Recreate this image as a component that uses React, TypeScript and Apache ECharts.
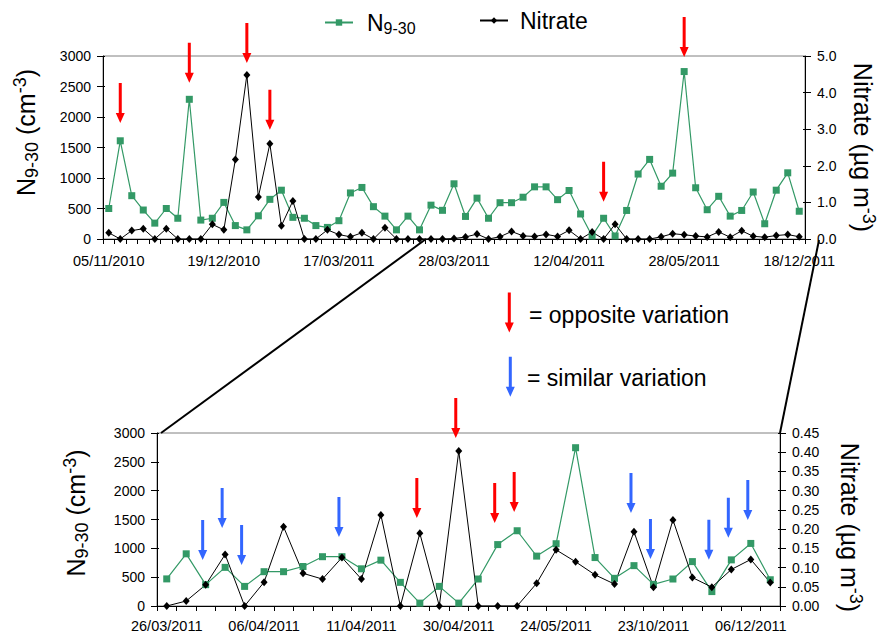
import React, { useEffect, useRef } from "react";
import * as echarts from "echarts";

// ---------- data ----------
const topTickLabels = ["05/11/2010", "19/12/2010", "17/03/2011", "28/03/2011", "12/04/2011", "28/05/2011", "18/12/2011"];
const bottomTickLabels = ["26/03/2011", "06/04/2011", "11/04/2011", "30/04/2011", "24/05/2011", "23/10/2011", "06/12/2011"];

// N9-30 number concentration (cm-3), one value per sample
const n930 = [
  500, 1610, 710, 475, 260, 500, 340, 2290, 310, 340,
  600, 220, 150, 380, 650, 800, 355, 340, 220, 190,
  300, 755, 845, 530, 375, 150, 375, 150, 555, 470,
  905, 370, 670, 340, 595, 595, 685, 855, 855, 645,
  795, 410, 50, 340, 50, 468, 1065, 1305, 865, 1080,
  2745, 840, 480, 700, 375, 468, 770, 250, 800, 1085,
  455,
];

// Nitrate (µg m-3), one value per sample
const nitrate = [
  0.17, 0, 0.23, 0.28, 0, 0.28, 0, 0, 0, 0.4,
  0.25, 2.17, 4.48, 1.15, 2.6, 0.36, 1.04, 0, 0, 0.25,
  0.12, 0.06, 0.17, 0, 0.31, 0, 0, 0, 0, 0,
  0.013, 0.055, 0.134, 0, 0.062, 0.206, 0.085, 0.07, 0.126, 0.07,
  0.237, 0, 0.189, 0, 0.403, 0, 0, 0, 0.059, 0.146,
  0.115, 0.081, 0.057, 0.193, 0.049, 0.224, 0.074, 0.049, 0.095, 0.121,
  0.061,
];

// first sample shown in the enlarged (bottom) panel
const zoomStart = 29;

// annotation arrows: sample index, N9-30 value at arrow tip, kind (o = opposite, s = similar)
const topArrowIndex = [1, 7, 12, 14, 43, 50];
const topArrowTip = [1900, 2560, 2885, 1790, 610, 2984];
const topArrowKind = ["o", "o", "o", "o", "o", "o"];

const bottomArrowIndex = [2, 3, 4, 9, 13, 15, 17, 18, 24, 25, 28, 29, 30];
const bottomArrowTip = [798, 1353, 711, 1197, 1526, 2913, 1439, 1630, 1613, 815, 803, 1185, 1491];
const bottomArrowKind = ["s", "s", "s", "s", "o", "o", "o", "o", "s", "s", "s", "s", "s"];

// ---------- styling ----------
const FONT = '"Liberation Sans", Arial, Helvetica, sans-serif';
const GREEN = "#339966";
const RED = "#FF0000";
const BLUE = "#3366FF";
const ARROW_PATH = "path://M3,0L6,0L6,30L9,30L4.5,40L0,30L3,30Z";

const topCats = n930.map((_, i) => String(i + 1));
const bottomCats = topCats.slice(zoomStart);

const nameRich = {
  n: { fontSize: 25, fontFamily: FONT, color: "#000", lineHeight: 30 },
  sub: { fontSize: 18, fontFamily: FONT, color: "#000", verticalAlign: "bottom" },
  sup: { fontSize: 18, fontFamily: FONT, color: "#000", verticalAlign: "top" },
};

function valueAxis(gridIndex: number, position: string, max: number, interval: number, decimals: number,
  name: string, nameGap: number, rotate: number, pad: number[]) {
  return {
    type: "value", gridIndex, position, min: 0, max, interval,
    axisLine: { show: true, lineStyle: { color: "#000", width: 1 } },
    axisTick: { show: true, length: 6, lineStyle: { color: "#000" } },
    axisLabel: {
      color: "#000", fontSize: 14, fontFamily: FONT, margin: 12,
      formatter: (v: number) => (decimals ? v.toFixed(decimals) : String(v)),
    },
    splitLine: { show: false },
    name, nameLocation: "middle", nameGap, nameRotate: rotate,
    nameTextStyle: { fontFamily: FONT, fontSize: 25, color: "#000", padding: pad, rich: nameRich },
  };
}

function innerTickAxis(gridIndex: number, position: string, max: number, interval: number) {
  return {
    type: "value", gridIndex, position, min: 0, max, interval,
    axisLine: { show: false }, axisLabel: { show: false }, splitLine: { show: false },
    axisTick: { show: true, inside: true, length: 2, lineStyle: { color: "#000" } },
  };
}

function categoryAxis(gridIndex: number, data: string[], every: number, labels: string[], margin: number) {
  return {
    type: "category", gridIndex, data, boundaryGap: true,
    axisLine: { show: true, lineStyle: { color: "#000", width: 1 } },
    axisTick: { show: true, interval: 0, length: 5, lineStyle: { color: "#000" } },
    axisLabel: {
      interval: every - 1, color: "#000", fontSize: 14.5, fontFamily: FONT, margin,
      formatter: (_v: string, idx: number) => labels[idx / every] || "",
    },
    splitLine: { show: false },
  };
}

function arrowMarks(index: number[], tip: number[], kind: string[], dx: number) {
  return {
    silent: true,
    symbol: ARROW_PATH,
    symbolSize: [9, 40],
    symbolKeepAspect: false,
    symbolOffset: [dx, "-50%"],
    label: { show: false },
    data: index.map((idx, k) => ({
      coord: [idx, tip[k]],
      itemStyle: { color: kind[k] === "o" ? RED : BLUE },
    })),
  };
}

function arrowPolygon(cx: number, top: number, color: string) {
  const pts = [[3, 0], [6, 0], [6, 30], [9, 30], [4.5, 40], [0, 30], [3, 30]].map(
    ([x, y]) => [cx - 4.5 + x, top + y]
  );
  return { type: "polygon", shape: { points: pts }, style: { fill: color }, silent: true };
}

const legendRichN = {
  n: { fontSize: 23, fontFamily: FONT, color: "#000", lineHeight: 28, padding: [0, 0, 0, 9] },
  sub: { fontSize: 16, fontFamily: FONT, color: "#000", verticalAlign: "bottom" },
};
const legendRichNit = {
  n: { fontSize: 23, fontFamily: FONT, color: "#000", lineHeight: 28, padding: [0, 0, 0, 7] },
};

const greenSeries = {
  type: "line", symbol: "rect", symbolSize: 7, showAllSymbol: true,
  itemStyle: { color: GREEN }, lineStyle: { color: GREEN, width: 1.2 },
};
const blackSeries = {
  type: "line", symbol: "diamond", symbolSize: [7, 8], showAllSymbol: true,
  itemStyle: { color: "#000" }, lineStyle: { color: "#000", width: 1 },
};

export default function App() {
  const ref = useRef<HTMLDivElement>(null);
  useEffect(() => {
    if (!ref.current) return;
    const chart = echarts.init(ref.current, null, { renderer: "svg" });
    const option = {
      animation: false,
      backgroundColor: "#fff",
      textStyle: { fontFamily: FONT },
      legend: [
        {
          data: ["N9-30"], left: 324, top: 11, padding: 0, itemWidth: 28, itemHeight: 8,
          selectedMode: false, formatter: () => "{n|N}{sub|9-30}", textStyle: { rich: legendRichN },
        },
        {
          data: ["Nitrate"], left: 479, top: 9, padding: 0, itemWidth: 28, itemHeight: 8,
          selectedMode: false, formatter: () => "{n|Nitrate}", textStyle: { rich: legendRichNit },
        },
      ],
      grid: [
        { left: 103, right: 69, top: 56, height: 183, show: true, borderColor: "#808080", borderWidth: 1 },
        { left: 157, right: 106, top: 433, height: 173, show: true, borderColor: "#808080", borderWidth: 1 },
      ],
      xAxis: [
        categoryAxis(0, topCats, 10, topTickLabels, 14),
        categoryAxis(1, bottomCats, 5, bottomTickLabels, 12),
      ],
      yAxis: [
        valueAxis(0, "left", 3000, 500, 0, "{n|N}{sub|9-30}{n| (cm}{sup|-3}{n|)}", 62, 90, [0, 0, 0, 30]),
        valueAxis(0, "right", 5, 1, 1, "{n|Nitrate (µg m}{sup|-3}{n|)}", 43, -90, [0, 0, 0, 0]),
        innerTickAxis(0, "left", 3000, 500),
        innerTickAxis(0, "right", 5, 1),
        valueAxis(1, "left", 3000, 500, 0, "{n|N}{sub|9-30}{n| (cm}{sup|-3}{n|)}", 66, 90, [0, 0, 0, 13]),
        valueAxis(1, "right", 0.45, 0.05, 2, "{n|Nitrate (µg m}{sup|-3}{n|)}", 55, -90, [0, 0, 0, 16]),
        innerTickAxis(1, "left", 3000, 500),
        innerTickAxis(1, "right", 0.45, 0.05),
      ],
      series: [
        {
          ...greenSeries, name: "N9-30", xAxisIndex: 0, yAxisIndex: 0, data: n930,
          markPoint: arrowMarks(topArrowIndex, topArrowTip, topArrowKind, 0),
        },
        { ...blackSeries, name: "Nitrate", xAxisIndex: 0, yAxisIndex: 1, data: nitrate },
        {
          ...greenSeries, name: "N9-30", xAxisIndex: 1, yAxisIndex: 4, data: n930.slice(zoomStart),
          markPoint: arrowMarks(bottomArrowIndex, bottomArrowTip, bottomArrowKind, -3),
        },
        { ...blackSeries, name: "Nitrate", xAxisIndex: 1, yAxisIndex: 5, data: nitrate.slice(zoomStart) },
      ],
      graphic: [
        { type: "line", shape: { x1: 161, y1: 433, x2: 426, y2: 239 }, style: { stroke: "#000", lineWidth: 2 }, silent: true },
        { type: "line", shape: { x1: 780, y1: 433, x2: 819, y2: 240 }, style: { stroke: "#000", lineWidth: 2 }, silent: true },
        arrowPolygon(509.3, 292.5, RED),
        arrowPolygon(510.3, 356.7, BLUE),
        {
          type: "text", x: 529, y: 315, silent: true,
          style: { text: "= opposite variation", fontSize: 23, fontFamily: FONT, fill: "#000", verticalAlign: "middle", textVerticalAlign: "middle" },
        },
        {
          type: "text", x: 527, y: 378, silent: true,
          style: { text: "= similar variation", fontSize: 23, fontFamily: FONT, fill: "#000", verticalAlign: "middle", textVerticalAlign: "middle" },
        },
      ],
    };
    chart.setOption(option as any);
    return () => chart.dispose();
  }, []);
  return (
    <div
      ref={ref}
      style={{ position: "fixed", left: 0, top: 0, width: 886, height: 637, background: "#fff" }}
    />
  );
}
